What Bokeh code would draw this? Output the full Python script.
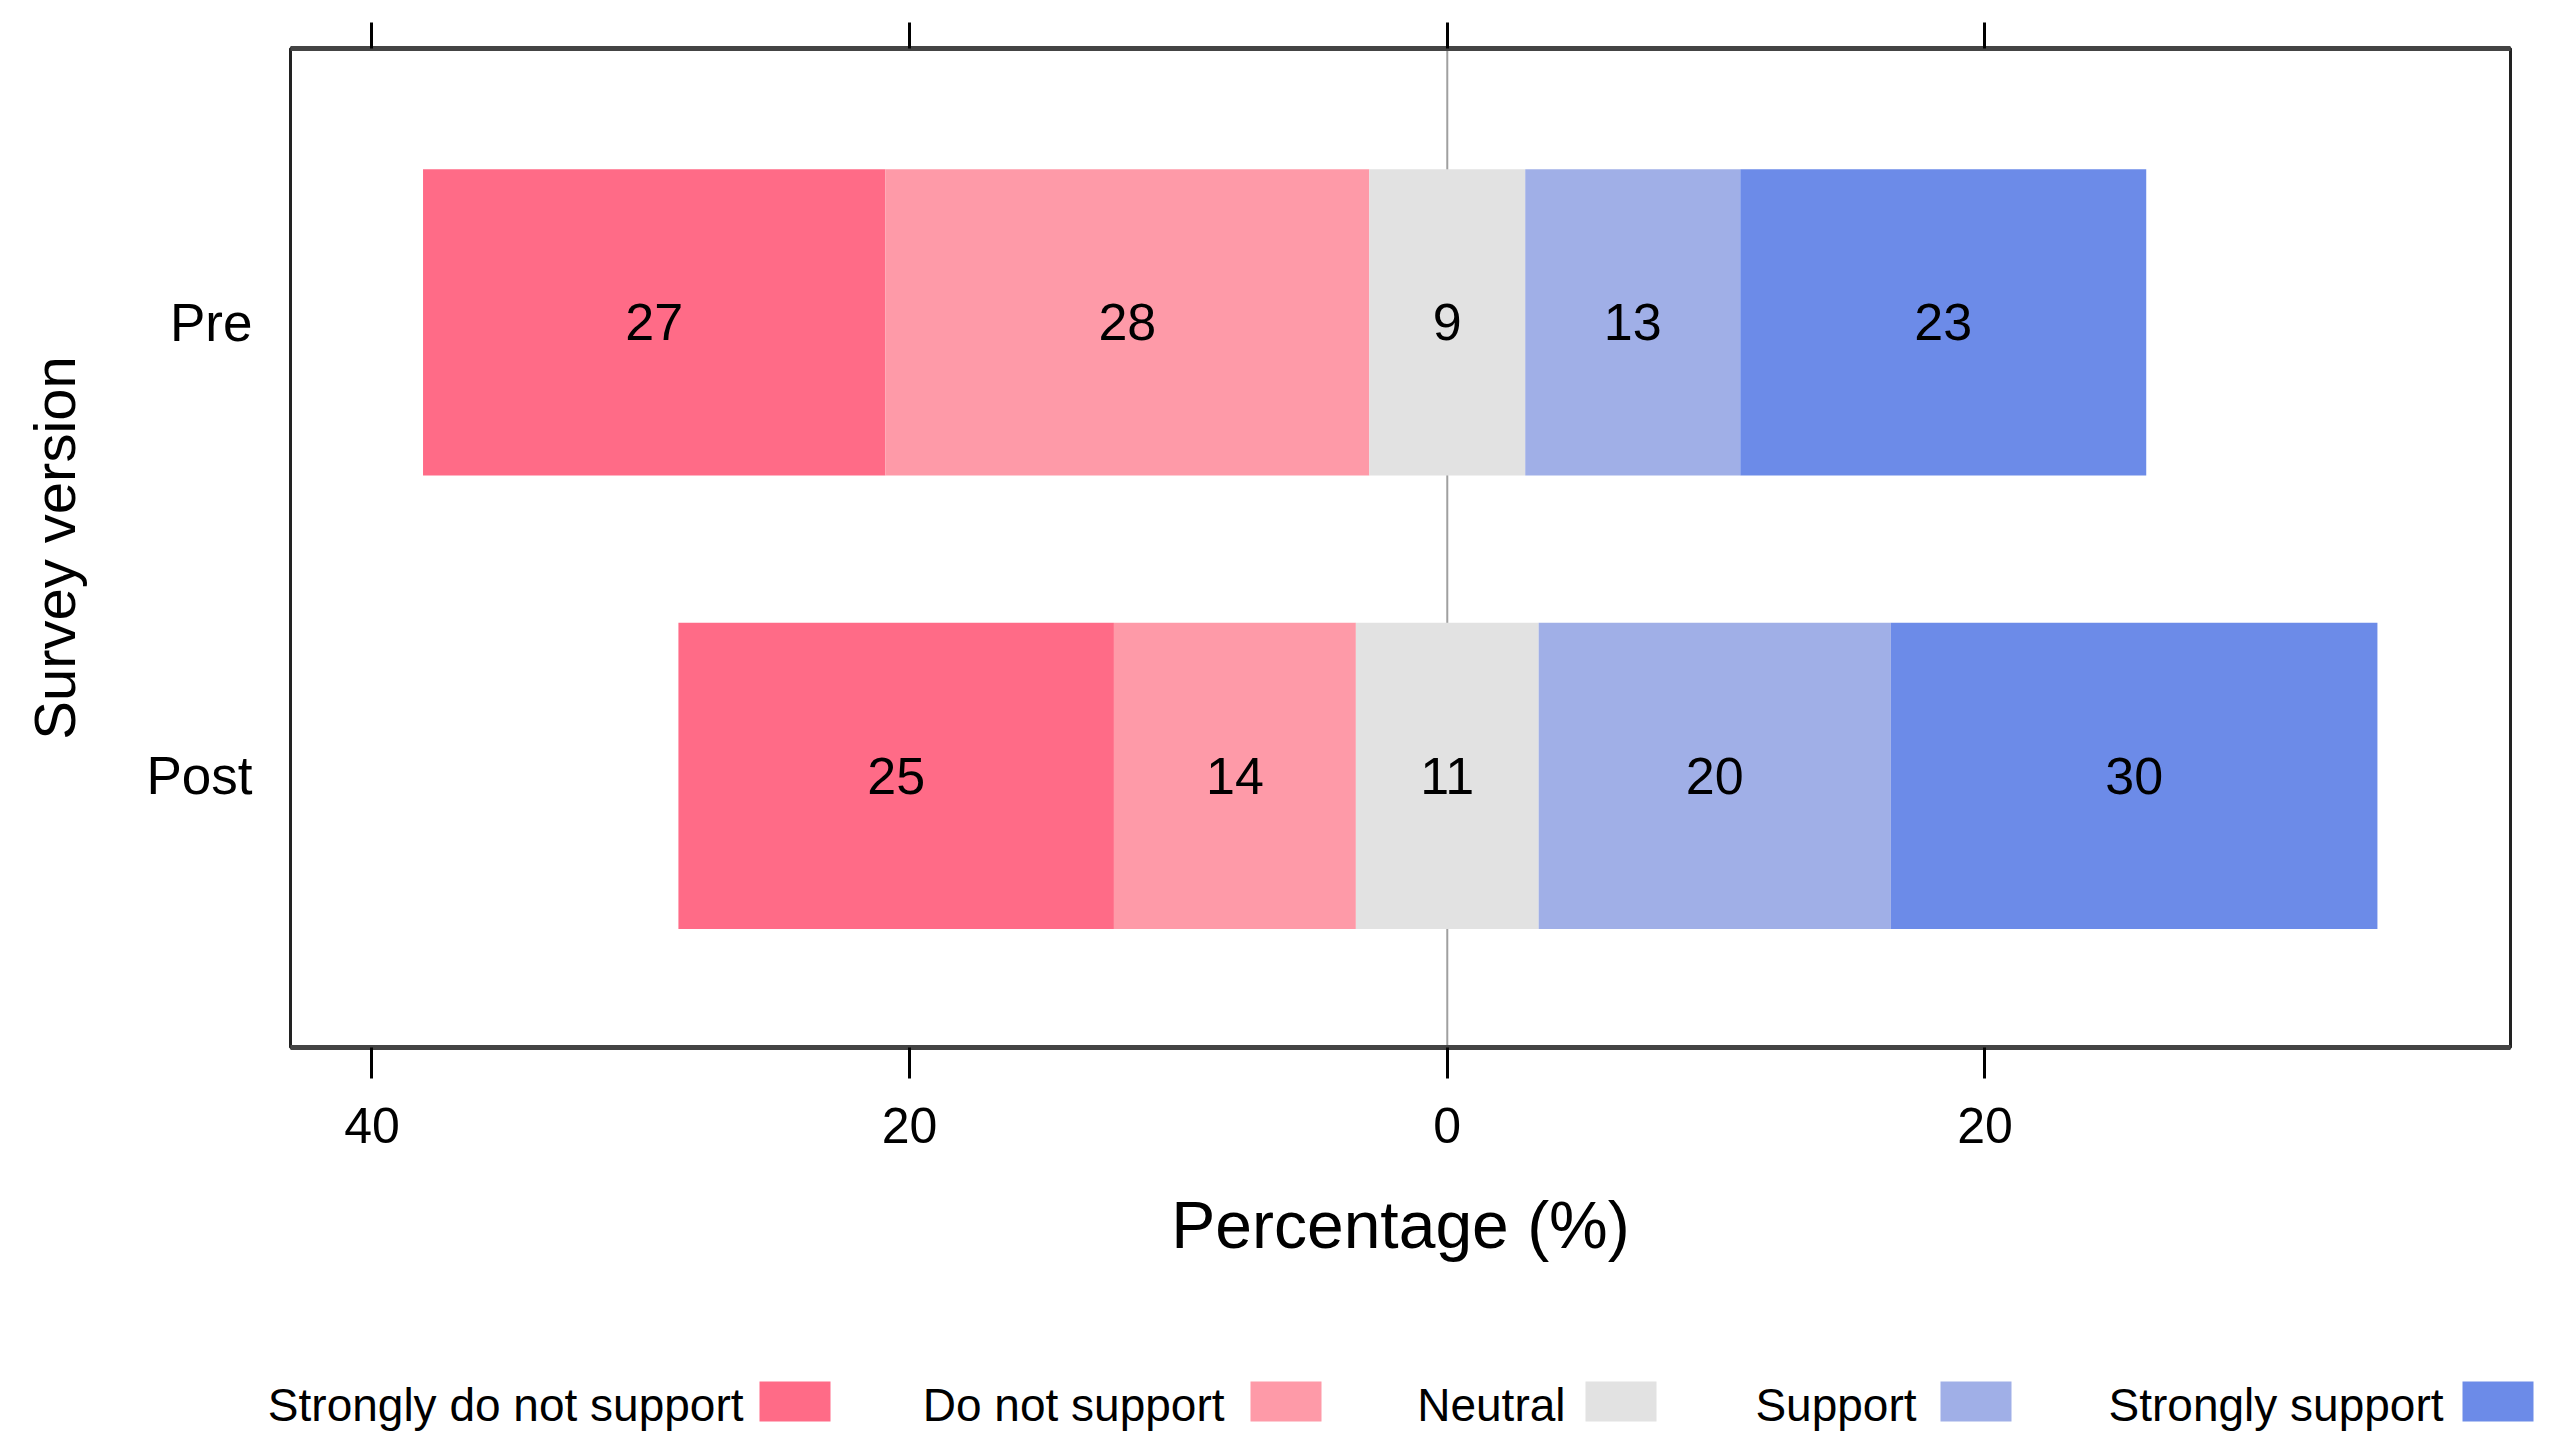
import numpy as np
from bokeh.plotting import figure
from bokeh.models import Range1d, FixedTicker, LinearAxis, Span, ColumnDataSource
from bokeh.layouts import column
from bokeh.embed import file_html
from bokeh.resources import INLINE
from bokeh.core.properties import value

# ---------------- data ----------------
categories = ["Pre", "Post"]
responses = ["Strongly do not support", "Do not support", "Neutral",
             "Support", "Strongly support"]
pre_values = [17.2, 18.0, 5.8, 8.0, 15.1]
post_values = [16.2, 9.0, 6.8, 13.1, 18.1]
pre_labels = ["27", "28", "9", "13", "23"]
post_labels = ["25", "14", "11", "20", "30"]
x_ticks = [-40, -20, 0, 20]
x_tick_labels = ["40", "20", "0", "20"]

# ---------------- styles / layout ----------------
colors = ["#FF6B87", "#FE9AA8", "#E2E2E2", "#A0AFE7", "#6C8BE8"]
FONT = "Liberation Sans"
W = 2534
H_MAIN, H_LEG = 1290, 146
FL, FR, FT, FB = 290, 2510, 48, 1047          # frame edges in pixels

# build bar table (neutral centred on zero)
y_pos = {"Pre": 1, "Post": 0}
rows = dict(left=[], right=[], y=[], color=[], label=[], xc=[])
for cat, vals, labs in [("Pre", pre_values, pre_labels), ("Post", post_values, post_labels)]:
    v = np.array(vals, dtype=float)
    start = -(v[0] + v[1] + v[2] / 2.0)
    edges = start + np.concatenate([[0.0], np.cumsum(v)])
    for i in range(len(v)):
        rows["left"].append(edges[i])
        rows["right"].append(edges[i + 1])
        rows["y"].append(y_pos[cat])
        rows["color"].append(colors[i])
        rows["label"].append(labs[i])
        rows["xc"].append((edges[i] + edges[i + 1]) / 2.0)
src = ColumnDataSource(rows)

p = figure(width=W, height=H_MAIN,
           x_range=Range1d(-43.03, 39.55), y_range=Range1d(-0.599, 1.604),
           output_backend="svg", toolbar_location=None,
           min_border_left=FL, min_border_right=W - FR,
           min_border_top=FT, min_border_bottom=H_MAIN - FB)
p.frame_align = False
p.grid.visible = False
p.background_fill_color = "white"
p.border_fill_color = "white"
p.outline_line_color = "#222222"
p.outline_line_width = 3

p.add_layout(Span(location=0, dimension="height", line_color="#A0A0A0",
                  line_width=2, level="underlay"))

p.hbar(y="y", left="left", right="right", height=0.675, fill_color="color",
       line_color=None, source=src)
p.text(x="xc", y="y", text="label", text_font=value(FONT), text_font_size="52px",
       text_align="center", text_baseline="middle", text_color="black", source=src)

# bottom axis
xa = p.xaxis[0]
xa.ticker = FixedTicker(ticks=x_ticks)
xa.major_label_overrides = dict(zip(x_ticks, x_tick_labels))
xa.major_tick_out = 31
xa.major_tick_in = 0
xa.minor_tick_line_color = None
xa.major_tick_line_width = 3
xa.major_tick_line_color = "black"
xa.axis_line_width = 5
xa.axis_line_color = "#444444"
xa.major_label_text_font = FONT
xa.major_label_text_font_size = "50px"
xa.major_label_text_color = "black"
xa.major_label_standoff = 29
xa.axis_label = "Percentage (%)"
xa.axis_label_text_font = FONT
xa.axis_label_text_font_size = "66px"
xa.axis_label_text_font_style = "normal"
xa.axis_label_text_color = "black"
xa.axis_label_standoff = 42

# top axis (ticks only)
ta = LinearAxis(ticker=FixedTicker(ticks=x_ticks))
ta.major_label_overrides = {t: "" for t in x_ticks}
ta.major_label_text_font_size = "1px"
ta.major_label_standoff = 0
ta.major_tick_out = 26
ta.major_tick_in = 0
ta.minor_tick_line_color = None
ta.major_tick_line_width = 3
ta.major_tick_line_color = "black"
ta.axis_line_width = 5
ta.axis_line_color = "#444444"
p.add_layout(ta, "above")

# left axis
ya = p.yaxis[0]
ya.ticker = FixedTicker(ticks=[y_pos[c] for c in categories])
ya.major_label_overrides = {y_pos[c]: c for c in categories}
ya.major_tick_out = 0
ya.major_tick_in = 0
ya.minor_tick_line_color = None
ya.axis_line_color = None
ya.major_label_text_font = FONT
ya.major_label_text_font_size = "53px"
ya.major_label_text_color = "black"
ya.major_label_standoff = 38
ya.axis_label = "Survey version"
ya.axis_label_text_font = FONT
ya.axis_label_text_font_size = "58px"
ya.axis_label_text_font_style = "normal"
ya.axis_label_text_color = "black"
ya.axis_label_standoff = 56

# ---------------- legend (label then key), below the plot ----------------
TOTAL = H_MAIN + H_LEG
lf = figure(width=W, height=H_LEG, x_range=Range1d(0, W), y_range=Range1d(0, H_LEG),
            output_backend="svg", toolbar_location=None,
            x_axis_location=None, y_axis_location=None,
            min_border_left=0, min_border_right=0, min_border_top=0, min_border_bottom=0)
lf.frame_align = False
lf.grid.visible = False
lf.outline_line_color = None
lf.background_fill_color = "white"
lf.border_fill_color = "white"

text_right_px = [743, 1224, 1565, 1916, 2443]
key_left_px = [759, 1250, 1585, 1940, 2462]
key_w_px = 71
key_top_px, key_bot_px, text_mid_px = 1381, 1421, 1404

lsrc = ColumnDataSource(dict(
    tx=text_right_px, label=responses,
    kl=key_left_px, kr=[k + key_w_px for k in key_left_px], color=colors))
lf.quad(left="kl", right="kr", bottom=TOTAL - key_bot_px, top=TOTAL - key_top_px,
        fill_color="color", line_color=None, source=lsrc)
lf.text(x="tx", y=TOTAL - text_mid_px, text="label", text_font=value(FONT),
        text_font_size="46px", text_align="right", text_baseline="middle",
        text_color="black", source=lsrc)

layout = column(p, lf, spacing=0)
open("out.html", "w").write(file_html(layout, INLINE))
